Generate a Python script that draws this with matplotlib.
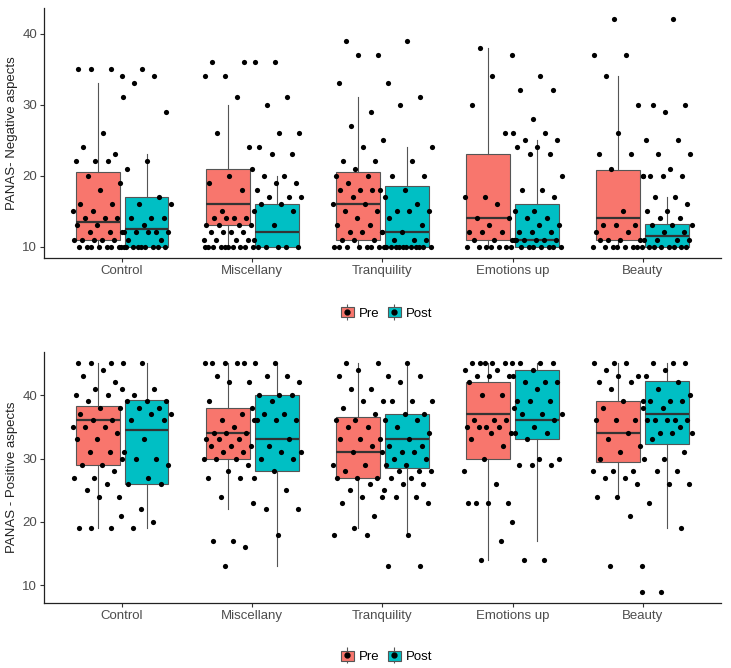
import matplotlib
matplotlib.use('Agg')
import matplotlib.pyplot as plt
from matplotlib.patches import Patch
from matplotlib.lines import Line2D
import numpy as np

plt.rcParams['font.family'] = ['Liberation Sans', 'DejaVu Sans']

categories = ["Control", "Miscellany", "Tranquility", "Emotions up", "Beauty"]
groups = ["Pre", "Post"]

# ---- Negative aspects: box statistics ----
neg_pre_whislo = [10, 10, 10, 10, 10]
neg_pre_q1 = [11, 13, 11, 11, 11]
neg_pre_med = [13.5, 16, 16, 14, 14]
neg_pre_q3 = [20.5, 21, 20.5, 23, 20.75]
neg_pre_whishi = [33, 30, 31, 38, 34]
neg_post_whislo = [10, 10, 10, 10, 10]
neg_post_q1 = [10, 10, 10, 10, 10]
neg_post_med = [12.5, 12, 12, 11, 11.5]
neg_post_q3 = [17, 16, 18.5, 16, 13.25]
neg_post_whishi = [23, 20, 24, 25, 17]

# ---- Positive aspects: box statistics ----
pos_pre_whislo = [19, 22, 19, 14, 24]
pos_pre_q1 = [29, 30, 27, 30, 29.5]
pos_pre_med = [36, 34, 31, 37, 34]
pos_pre_q3 = [38.25, 38, 36.5, 42, 39]
pos_pre_whishi = [45, 45, 45, 45, 45]
pos_post_whislo = [19, 13, 18, 17, 19]
pos_post_q1 = [26, 28, 28.5, 33, 32.25]
pos_post_med = [34.5, 33, 33, 36, 37]
pos_post_q3 = [39.25, 40, 37, 44, 42.25]
pos_post_whishi = [45, 45, 45, 45, 45]

# ---- Individual scores ----
neg_pre_points = [
    [35,35,35,31,26,24,23,22,22,22,20,19,18,16,16,15,15,14,14,14,13,13,12,12,12,11,11,11,11,11,10,10,10,10,10,10,10,10],
    [36,36,34,34,31,26,24,20,19,18,15,15,14,14,14,14,13,13,13,13,12,12,12,12,11,11,11,11,10,10,10,10,10,10,10,10,10,10],
    [39,37,37,33,29,27,25,24,22,22,21,20,20,19,18,18,18,18,17,16,16,15,15,14,13,13,12,12,12,11,11,11,10,10,10,10,10,10,10],
    [38,37,34,30,26,17,17,16,14,14,13,12,12,12,11,11,11,10,10,10,10,10,10,10],
    [42,37,37,34,30,26,23,23,21,20,15,13,13,13,12,12,11,11,11,11,10,10,10,10,10,10,10],
]
neg_post_points = [
    [35,34,34,33,29,22,21,17,16,16,14,14,14,13,12,12,12,12,12,11,11,10,10,10,10,10,10,10,10,10],
    [36,36,31,30,26,26,24,23,23,21,20,20,19,19,18,17,17,17,16,16,15,13,11,10,10,10,10,10],
    [39,33,31,30,24,22,20,20,18,17,16,15,15,15,14,13,12,12,11,11,11,10,10,10,10,10,10,10,10,10,10,10,10],
    [34,32,32,28,26,26,25,25,24,24,23,23,20,18,18,17,15,15,14,14,13,13,12,12,12,11,11,11,11,11,11,10,10,10,10,10,10,10],
    [42,30,30,29,25,25,23,23,21,20,20,20,20,17,17,16,15,15,14,14,13,13,13,12,12,11,11,11,11,10,10,10,10,10,10,10,10],
]
pos_pre_points = [
    [45,45,45,45,44,43,42,41,40,40,39,38,38,37,36,36,35,35,35,34,33,33,31,31,30,29,29,28,27,27,26,25,24,24,19,19,19],
    [45,45,45,45,45,43,42,42,39,37,36,36,35,34,34,34,33,33,33,32,32,32,31,31,30,30,30,29,28,27,27,24,23,17,17,16,13],
    [45,45,44,43,41,41,39,39,38,37,36,36,35,35,33,33,33,32,31,29,29,28,27,27,27,26,25,24,24,23,21,19,18,18],
    [45,45,45,45,45,45,44,44,43,43,43,42,40,40,38,36,36,36,35,35,35,35,34,34,33,32,30,28,26,23,23,23,23,17,14],
    [45,45,45,44,43,43,42,42,41,39,39,38,36,36,36,34,33,32,31,30,28,28,28,27,27,26,24,24,21,13,13],
]
pos_post_points = [
    [45,41,41,40,39,39,39,38,38,37,37,36,36,33,31,30,30,29,27,26,26,22,21,20,19],
    [45,45,43,43,42,40,40,40,39,38,37,37,36,36,36,33,32,31,31,30,30,28,27,25,22,22,18],
    [45,43,43,42,39,39,39,37,37,36,36,35,34,33,32,32,31,31,31,30,30,29,29,28,28,28,27,27,26,26,25,24,24,23,18,13,13],
    [45,45,45,44,43,42,42,42,41,39,39,39,37,37,37,36,35,34,34,33,30,30,29,29,29,20,14,14],
    [45,45,45,44,43,42,41,40,39,39,39,38,38,36,36,36,36,36,35,34,34,34,33,31,30,30,28,28,26,26,23,19,9,9],
]

y_labels = ["PANAS- Negative aspects", "PANAS - Positive aspects"]

pre_color = '#F8766D'
post_color = '#00BFC4'
edge_color = '#555555'
dodge = 0.1875
box_w = 0.3375
jit_w = 0.2


def stats_list(whislo, q1, med, q3, whishi):
    return [dict(whislo=a, q1=b, med=c, q3=d, whishi=e, fliers=[])
            for a, b, c, d, e in zip(whislo, q1, med, q3, whishi)]


def jitter(n, phase):
    k = np.arange(n)
    return (((k * 0.6180339887 + phase) % 1.0) - 0.5) * 2 * jit_w


def draw_panel(ax, pre_stats, post_stats, pre_pts, post_pts, ylabel, ylim):
    x = np.arange(1, len(categories) + 1)
    for stats, off, col in ((pre_stats, -dodge, pre_color), (post_stats, dodge, post_color)):
        ax.bxp(stats, positions=x + off, widths=box_w, patch_artist=True,
               showfliers=False, showcaps=False, zorder=2,
               boxprops=dict(facecolor=col, edgecolor=edge_color, linewidth=0.8),
               whiskerprops=dict(color=edge_color, linewidth=0.8),
               medianprops=dict(color='#333333', linewidth=1.6))
    for i in range(len(categories)):
        for pts, off, ph in ((pre_pts[i], -dodge, 0.13 + 0.07 * i), (post_pts[i], dodge, 0.41 + 0.05 * i)):
            pts = np.asarray(pts, dtype=float)
            ax.scatter(x[i] + off + jitter(len(pts), ph), pts, s=14, color='black',
                       zorder=3, linewidths=0)
    ax.set_xlim(0.4, 5.6)
    ax.set_ylim(*ylim)
    ax.set_xticks(x)
    ax.set_xticklabels(categories)
    ax.set_yticks([10, 20, 30, 40])
    ax.set_ylabel(ylabel, fontsize=9.5, color='#222222', labelpad=3)
    for s in ('top', 'right'):
        ax.spines[s].set_visible(False)
    for s in ('left', 'bottom'):
        ax.spines[s].set_color('#222222')
        ax.spines[s].set_linewidth(0.9)
    ax.tick_params(axis='both', labelsize=9.5, labelcolor='#4d4d4d', color='#333333',
                   length=3, width=0.8, pad=2)


fig = plt.figure(figsize=(7.31, 6.68), dpi=100)
ax1 = fig.add_axes([0.0602, 0.6138, 0.9261, 0.3742])
ax2 = fig.add_axes([0.0602, 0.0973, 0.9261, 0.3757])

draw_panel(ax1,
           stats_list(neg_pre_whislo, neg_pre_q1, neg_pre_med, neg_pre_q3, neg_pre_whishi),
           stats_list(neg_post_whislo, neg_post_q1, neg_post_med, neg_post_q3, neg_post_whishi),
           neg_pre_points, neg_post_points, y_labels[0], (8.4, 43.6))
draw_panel(ax2,
           stats_list(pos_pre_whislo, pos_pre_q1, pos_pre_med, pos_pre_q3, pos_pre_whishi),
           stats_list(pos_post_whislo, pos_post_q1, pos_post_med, pos_post_q3, pos_post_whishi),
           pos_pre_points, pos_post_points, y_labels[1], (7.2, 46.8))


def legend_handles():
    hs = []
    for col in (pre_color, post_color):
        hs.append((Patch(facecolor='#ebebeb', edgecolor='none'),
                   Line2D([], [], marker='|', ms=11, color=edge_color, ls='', mew=0.8),
                   Patch(facecolor=col, edgecolor=edge_color, linewidth=0.8),
                   Line2D([], [], marker='o', ms=3.5, color='black', ls='')))
    return hs


for yc in (0.531, 0.0165):
    fig.legend(legend_handles(), groups, loc='center', bbox_to_anchor=(0.529, yc),
               ncol=2, frameon=False, fontsize=9.5, handlelength=1.0, handleheight=0.8,
               columnspacing=0.6, handletextpad=0.4)

fig.savefig('out.png', dpi=100)
